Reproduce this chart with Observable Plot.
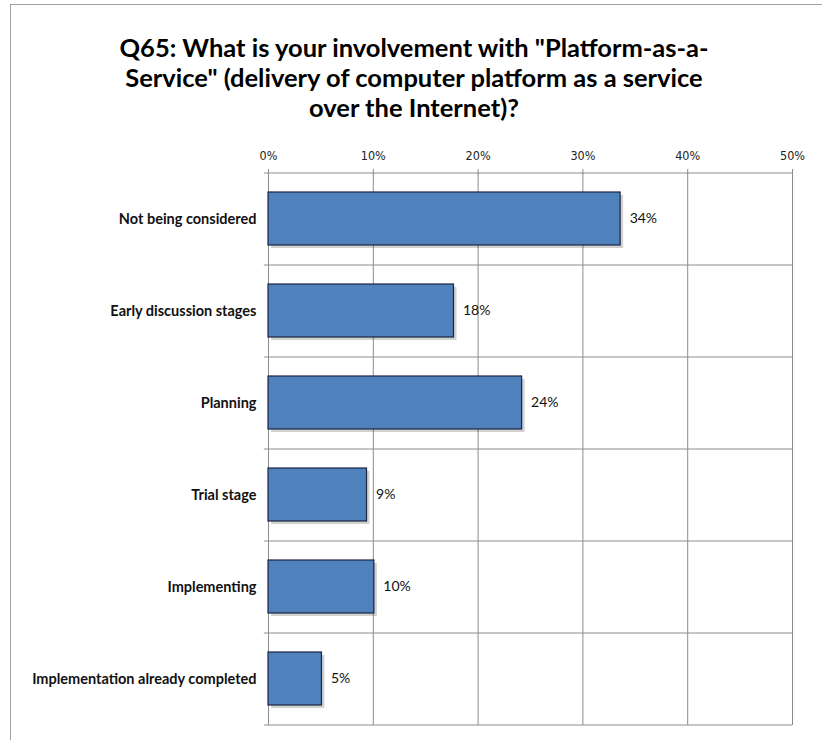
<!DOCTYPE html>
<html>
<head>
<meta charset="utf-8">
<script src="https://cdn.jsdelivr.net/npm/d3@7"></script>
<script src="https://cdn.jsdelivr.net/npm/@observablehq/plot@0.6"></script>
<style>
  html, body { margin: 0; padding: 0; background: #fff; }
  #wrap { position: relative; width: 822px; height: 740px; overflow: hidden; }
  #frame { position: absolute; left: 10px; top: 4px; width: 830px; height: 760px; border: 1px solid #a0a0a0; box-sizing: border-box; }
  #title { position: absolute; left: 10px; width: 808px; top: 32px; text-align: center;
    font-family: Lato, "Open Sans", sans-serif; font-weight: bold; font-size: 25.5px; line-height: 30px; color: #000; }
  #chart { position: absolute; left: 0; top: 0; }
</style>
</head>
<body>
<div id="wrap">
  <div id="frame"></div>
  <div id="chart"></div>
  <div id="title">Q65: What is your involvement with "Platform-as-a-<br>Service" (delivery of computer platform as a service<br>over the Internet)?</div>
</div>
<script>
const categories = [
  "Not being considered",
  "Early discussion stages",
  "Planning",
  "Trial stage",
  "Implementing",
  "Implementation already completed"
];
const values = [33.6, 17.7, 24.2, 9.4, 10.1, 5.1];
const xTicks = [0, 10, 20, 30, 40, 50];

const data = categories.map((c, i) => ({category: c, value: values[i]}));

const W = 822, H = 740;
const mL = 268, mR = 30, mT = 173, mB = 15;
const step = (H - mT - mB) / categories.length;
const grid = "#8c8c8c";

const plot = Plot.plot({
  width: W,
  height: H,
  marginLeft: mL,
  marginRight: mR,
  marginTop: mT,
  marginBottom: mB,
  style: {background: "transparent", fontFamily: "Lato, 'Open Sans', sans-serif"},
  x: {domain: [0, 50], axis: null},
  y: {domain: categories, paddingInner: 0.42, paddingOuter: 0.21, axis: null},
  marks: [
    // vertical gridlines
    Plot.ruleX(xTicks, {stroke: grid, strokeWidth: 1, strokeOpacity: 1}),
    // horizontal gridlines at band boundaries
    Plot.ruleY(categories, {y: d => d, dy: -step / 2, x1: -0.4, x2: 50, stroke: grid, strokeWidth: 1, strokeOpacity: 1}),
    Plot.ruleY(categories.slice(-1), {y: d => d, dy: step / 2, x1: -0.4, x2: 50, stroke: grid, strokeWidth: 1, strokeOpacity: 1}),
    // top axis ticks
    Plot.axisX(xTicks, {anchor: "top", label: null, tickSize: 5, tickPadding: 9, tickFormat: d => d + "%", fontSize: 12.5, stroke: grid, color: "#222", fontFamily: "'Liberation Sans Narrow', 'DejaVu Sans Condensed', sans-serif"}),
    // shadow
    Plot.barX(data, {y: "category", x: "value", dx: 3, dy: 3, fill: "#000", fillOpacity: 0.18}),
    // bars
    Plot.barX(data, {y: "category", x: "value", fill: "#4f81bd", stroke: "#1a2540", strokeWidth: 1.2}),
    // value labels
    Plot.text(data, {y: "category", x: "value", text: d => Math.round(d.value) + "%", dx: 9, textAnchor: "start", fontSize: 14, fill: "#111"}),
    // category labels
    Plot.axisY({anchor: "left", label: null, tickSize: 0, tickPadding: 12, fontSize: 14.5, fontWeight: "bold", color: "#111"})
  ]
});
document.getElementById("chart").appendChild(plot);
</script>
</body>
</html>
